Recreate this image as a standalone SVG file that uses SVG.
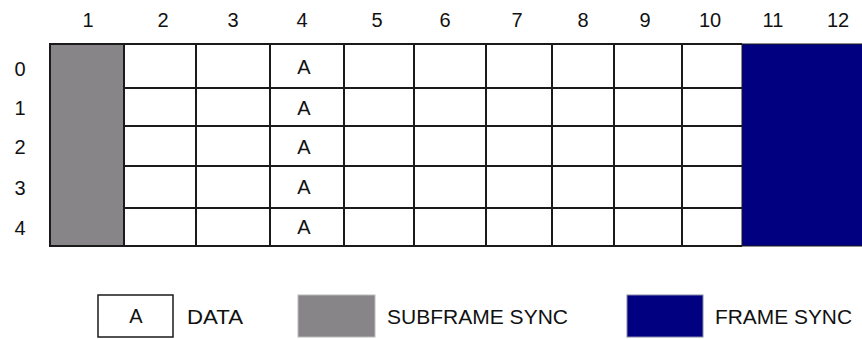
<svg xmlns="http://www.w3.org/2000/svg" width="862" height="339" viewBox="0 0 862 339">
<style>
text{font-family:"Liberation Sans",Arial,sans-serif;fill:#111;text-anchor:middle}
.num{font-size:20px}
.cell{font-size:20px}
.leg{font-size:21px;text-anchor:start}
.ln{stroke:#1a1a1a;stroke-width:2;fill:none}
.gray{fill:#878587;stroke:#1a1a1a;stroke-width:2}
.blue{fill:#000080;stroke:#1a1a1a;stroke-width:1}
</style>
<rect width="862" height="339" fill="#fff"/>
<g id="column-numbers" class="num">
<text x="88" y="27">1</text><text x="163" y="27">2</text><text x="233" y="27">3</text><text x="302" y="27">4</text><text x="377" y="27">5</text><text x="445" y="27">6</text><text x="517" y="27">7</text><text x="583" y="27">8</text><text x="645" y="27">9</text><text x="710" y="27">10</text><text x="773" y="27">11</text><text x="838" y="27">12</text>
</g>
<g id="row-numbers" class="num">
<text x="20" y="76">0</text><text x="20" y="115">1</text><text x="20" y="154">2</text><text x="20" y="195">3</text><text x="20" y="235">4</text>
</g>
<g id="grid">
<rect x="124" y="44" width="618" height="202" fill="#fff"/>
<path class="ln" d="M124,44H742M124,88H742M124,126H742M124,166H742M124,208H742M124,246H742M196,44V246M270,44V246M344,44V246M414,44V246M486,44V246M552,44V246M614,44V246M682,44V246"/>
</g>
<g id="subframe-sync-column"><rect class="gray" x="50" y="44" width="74" height="202"/></g>
<g id="frame-sync-columns"><rect class="blue" x="742" y="44" width="121" height="202"/></g>
<g id="data-cells" class="cell">
<text x="304" y="74">A</text><text x="304" y="115">A</text><text x="304" y="154">A</text><text x="304" y="194">A</text><text x="304" y="234">A</text>
</g>
<g id="legend-data">
<rect x="98" y="295" width="75" height="42" fill="#fff" stroke="#1a1a1a" stroke-width="1.5"/>
<text class="cell" x="136" y="323">A</text>
<text class="leg" x="187" y="324" textLength="56" lengthAdjust="spacingAndGlyphs">DATA</text>
</g>
<g id="legend-subframe-sync">
<rect x="298" y="295" width="77" height="42" fill="#878587" stroke="#bbb" stroke-width="1"/>
<text class="leg" x="387" y="324" textLength="181" lengthAdjust="spacingAndGlyphs">SUBFRAME SYNC</text>
</g>
<g id="legend-frame-sync">
<rect x="627" y="295" width="76" height="42" fill="#000080" stroke="#88a" stroke-width="1"/>
<text class="leg" x="715" y="324" textLength="137" lengthAdjust="spacingAndGlyphs">FRAME SYNC</text>
</g>
<g id="connectors"/>
</svg>
